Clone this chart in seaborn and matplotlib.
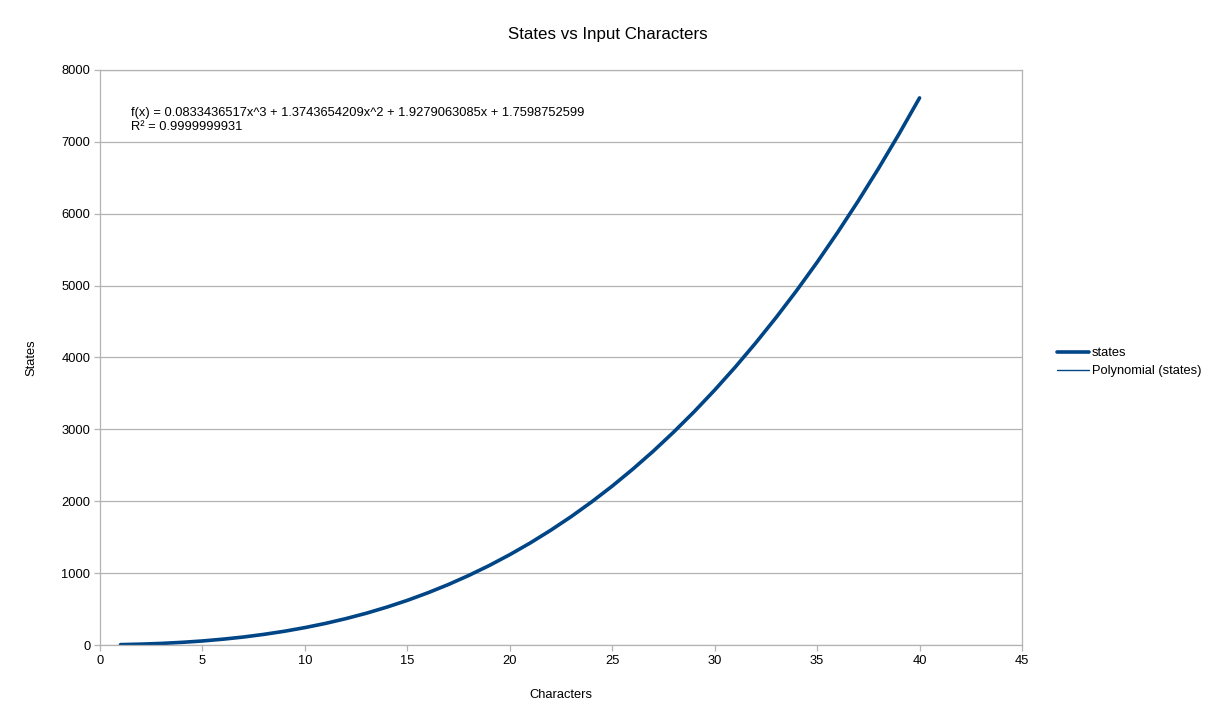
import numpy as np
import pandas as pd
import matplotlib
matplotlib.use("Agg")
import matplotlib.pyplot as plt
import seaborn as sns

# data
characters = list(range(1, 41))
states = [5, 12, 22, 37, 56, 81, 111, 148, 191, 242,
          300, 367, 442, 527, 621, 726, 841, 968, 1106, 1257,
          1420, 1597, 1787, 1992, 2211, 2446, 2696, 2963, 3246, 3547,
          3865, 4202, 4557, 4931, 5325, 5740, 6175, 6632, 7111, 7612]
x_ticks = [0, 5, 10, 15, 20, 25, 30, 35, 40, 45]
y_ticks = [0, 1000, 2000, 3000, 4000, 5000, 6000, 7000, 8000]

df = pd.DataFrame({"Characters": characters, "states": states})

# polynomial trendline (order 3)
coef = np.polyfit(df["Characters"], df["states"], 3)
xs = np.linspace(1, 40, 200)
trend = pd.DataFrame({"Characters": xs, "fit": np.polyval(coef, xs)})

sns.set_style("white")
plt.rcParams["font.family"] = ["Liberation Sans", "DejaVu Sans"]
plt.rcParams["text.color"] = "black"
plt.rcParams["axes.labelcolor"] = "black"
plt.rcParams["xtick.labelcolor"] = "black"
plt.rcParams["ytick.labelcolor"] = "black"

fig = plt.figure(figsize=(12.16, 7.21), dpi=100)
ax = fig.add_axes([100 / 1216, 1 - 645 / 721, 922 / 1216, 575 / 721])

col = "#004586"
grey = "#b3b3b3"
fs = 9.3
sns.lineplot(data=df, x="Characters", y="states", ax=ax, color=col, lw=2.6,
             label="states")
sns.lineplot(data=trend, x="Characters", y="fit", ax=ax, color=col, lw=1.0,
             label="Polynomial (states)")

ax.set_xlim(0, 45)
ax.set_ylim(0, 8000)
ax.set_xticks(x_ticks)
ax.set_yticks(y_ticks)
ax.yaxis.grid(True, color=grey, lw=0.9)
ax.set_axisbelow(True)
for s in ax.spines.values():
    s.set_color(grey)
    s.set_linewidth(0.9)
ax.tick_params(axis="both", length=4, width=0.9, color=grey, labelsize=fs,
               direction="out", pad=3, bottom=True, left=True)

ax.set_xlabel("Characters", fontsize=fs, labelpad=16)
ax.set_ylabel("States", fontsize=fs, labelpad=17)
fig.text(0.5, 1 - 34 / 721, "States vs Input Characters", ha="center",
         va="center", fontsize=12.2)

ax.text(1.5, 7300, "f(x) = 0.0833436517x^3 + 1.3743654209x^2 + 1.9279063085x + 1.7598752599\nR² = 0.9999999931",
        fontsize=fs, va="center", ha="left", linespacing=1.25)

ax.legend(loc="center left", bbox_to_anchor=(1.025, 0.492), frameon=False,
          fontsize=fs, handlelength=2.5, handletextpad=0.2, labelspacing=0.45)

fig.savefig("out.png", dpi=100)
